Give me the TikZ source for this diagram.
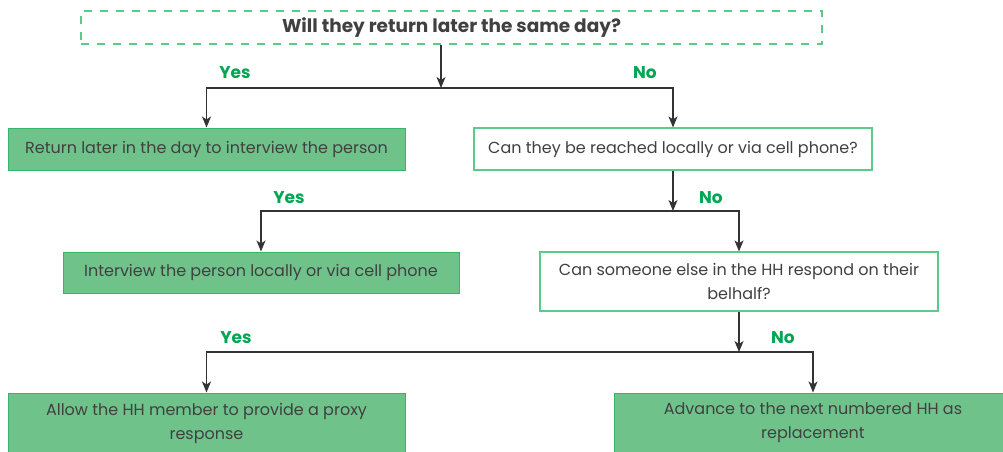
\documentclass[tikz,border=0pt]{standalone}
\usepackage{fontspec}
\setmainfont{Poppins}
\usetikzlibrary{arrows.meta}
\definecolor{boxfill}{HTML}{70C28B}
\definecolor{boxline}{HTML}{34B868}
\definecolor{qline}{HTML}{5CCB8A}
\definecolor{lblgreen}{HTML}{00A651}
\definecolor{txt}{HTML}{404040}
\definecolor{conn}{HTML}{333333}
\tikzset{
  x=1pt, y=-1pt,
  greenbox/.style={draw=boxline, line width=1pt, fill=boxfill, text=txt, align=center,
    inner sep=0pt, font=\fontsize{16}{24}\selectfont},
  qbox/.style={draw=qline, line width=1.2pt, fill=white, text=txt, align=center,
    inner sep=0pt, font=\fontsize{16}{24}\selectfont},
  topbox/.style={draw=qline, line width=1.2pt, dash pattern=on 8pt off 8pt, text=txt,
    inner sep=0pt, font=\bfseries\fontsize{18.5}{22}\selectfont},
  lbl/.style={text=lblgreen, font=\bfseries\fontsize{17}{20}\selectfont, inner sep=0pt},
  conn/.style={draw=conn, line width=1.2pt},
  arr/.style={conn, -{Stealth[length=11pt,width=9pt,inset=3pt]}},
}
\begin{document}
\begin{tikzpicture}
\useasboundingbox (0,0) rectangle (1003,451);
\node[topbox, minimum width=741pt, minimum height=33pt] (top) at (451.5,27.5) {Will they return later the same day?};
\node[greenbox, minimum width=397pt, minimum height=42pt] (ret) at (206.5,149) {Return later in the day to interview the person};
\node[qbox, minimum width=398pt, minimum height=42pt] (can1) at (673,149) {Can they be reached locally or via cell phone?};
\node[greenbox, minimum width=396pt, minimum height=41pt] (intv) at (261,272.5) {Interview the person locally or via cell phone};
\node[qbox, minimum width=398pt, minimum height=59pt] (can2) at (739,281.5) {Can someone else in the HH respond on their\\belhalf?};
\node[greenbox, minimum width=397pt, minimum height=60pt] (allow) at (206.5,423) {Allow the HH member to provide a proxy\\response};
\node[greenbox, minimum width=398pt, minimum height=60pt] (adv) at (813,423) {Advance to the next numbered HH as\\replacement};

\coordinate (j1) at (441,88);
\coordinate (j2) at (673,211);
\coordinate (j3) at (739,352);

\draw[arr] (top.south -| j1) -- (j1);
\draw[arr] (j1) -| (ret.north);
\draw[arr] (j1) -| (can1.north);
\draw[arr] (can1.south) -- (j2);
\draw[arr] (j2) -| (intv.north);
\draw[arr] (j2) -| (can2.north);
\draw[arr] (can2.south) -- (j3);
\draw[arr] (j3) -| (allow.north);
\draw[arr] (j3) -| (adv.north);

\node[lbl] (y1) at (235,73) {Yes};
\node[lbl] (n1) at (645,73) {No};
\node[lbl] (y2) at (289,198) {Yes};
\node[lbl] (n2) at (711,198) {No};
\node[lbl] (y3) at (236,338) {Yes};
\node[lbl] (n3) at (783,338) {No};
\end{tikzpicture}
\end{document}
